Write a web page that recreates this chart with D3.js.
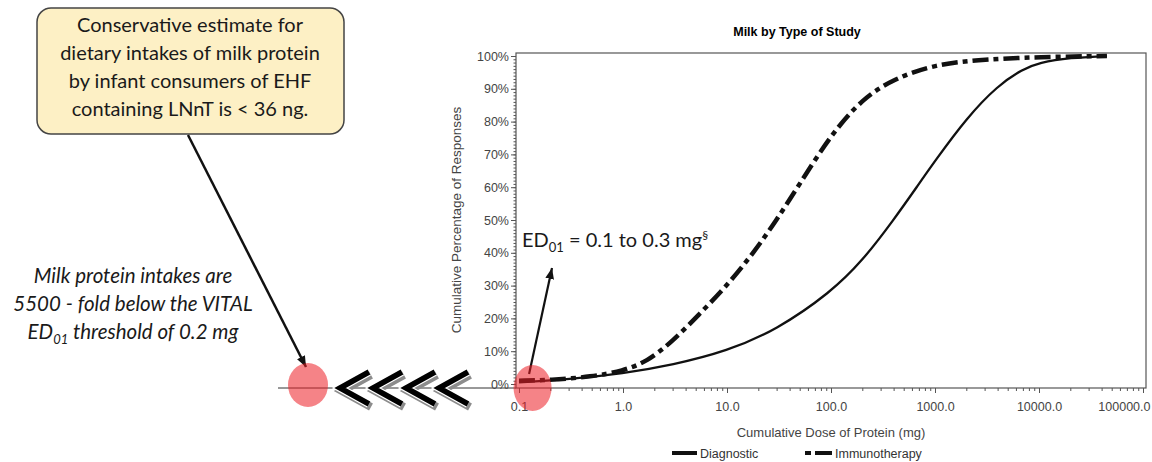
<!DOCTYPE html>
<html>
<head>
<meta charset="utf-8">
<script src="https://cdn.jsdelivr.net/npm/d3@7"></script>
<style>
  body { margin: 0; background: #fff; }
  svg { display: block; }
  .axis text { font-family: "Liberation Sans", Arial, sans-serif; font-size: 12.5px; fill: #444; }
  .axis line { stroke: #555; }
  .axis path { display: none; }
  .note { font-family: Lato, "Open Sans", sans-serif; fill: #1a1a1a; }
</style>
</head>
<body>
<div class="chart"></div>
<script>
// x ticks (mg, log scale) and y ticks (%)
const doseTicks = [0.1, 1, 10, 100, 1000, 10000, 100000]
const pctTicks = [0, 10, 20, 30, 40, 50, 60, 70, 80, 90, 100]

// Diagnostic (solid)
const diagDose = [0.1, 0.3, 1, 3, 10, 30, 100, 200, 400, 700, 1000, 2000, 4000, 7000, 10000, 20000, 45000]
const diagPct  = [0.5, 1.4, 3.2, 5.8, 10, 16.5, 28, 37.5, 50, 61, 68, 81, 91, 96, 98, 99.5, 100]

// Immunotherapy (dash-dot)
const immDose = [0.1, 0.2, 0.5, 1, 1.7, 3, 5.5, 10, 18, 30, 50, 100, 200, 400, 1000, 3000, 10000, 45000]
const immPct  = [1, 1.2, 2.2, 4, 6.8, 13, 21.5, 30, 40, 50, 61, 76, 87, 93, 97.5, 99, 99.7, 100]

const calloutLines = ["Conservative estimate for", "dietary intakes of milk protein", "by infant consumers of EHF", "containing LNnT is < 36 ng."]

const svg = d3.select(".chart").append("svg")
  .attr("width", 1152)
  .attr("height", 462)

const x = d3.scaleLog().domain([0.1, 100000]).range([519, 1143])
const y = d3.scaleLinear().domain([0, 100]).range([384, 56])

// title
svg.append("text")
  .attr("x", 797).attr("y", 36)
  .attr("text-anchor", "middle")
  .style("font-family", "'Liberation Sans', Arial, sans-serif")
  .style("font-size", "12.5px").style("font-weight", "bold")
  .text("Milk by Type of Study")

// baseline extending left of the plot
svg.append("line")
  .attr("x1", 278).attr("x2", 516)
  .attr("y1", 388).attr("y2", 388)
  .attr("stroke", "#333").attr("stroke-width", 1)

// frame
svg.append("rect")
  .attr("x", 516).attr("y", 53)
  .attr("width", 630).attr("height", 335)
  .attr("fill", "none").attr("stroke", "#555").attr("stroke-width", 1.2)

// x axis
const minorDose = []
for (let e = -1; e < 5; e++) for (let m = 2; m < 10; m++) minorDose.push(m * Math.pow(10, e))

svg.append("g").attr("class", "axis")
  .attr("transform", "translate(0,388)")
  .call(d3.axisBottom(x).tickValues(minorDose).tickSize(3).tickFormat(""))
const xAxisG = svg.append("g").attr("class", "axis")
  .attr("transform", "translate(0,388)")
  .call(d3.axisBottom(x).tickValues(doseTicks).tickSize(5).tickPadding(9).tickFormat(d3.format(".1f")))
// last label sits inside the page edge
xAxisG.selectAll(".tick text").filter(d => d === 100000)
  .attr("text-anchor", "end").attr("dx", 7)

// y axis
svg.append("g").attr("class", "axis")
  .attr("transform", "translate(516,0)")
  .call(d3.axisLeft(y).tickValues(d3.range(0, 101, 1)).tickSize(2.5).tickFormat(""))
svg.append("g").attr("class", "axis")
  .attr("transform", "translate(516,0)")
  .call(d3.axisLeft(y).tickValues(pctTicks).tickSize(5).tickPadding(2).tickFormat(d => d + "%"))

// axis labels
svg.append("text")
  .attr("x", 831).attr("y", 437)
  .attr("text-anchor", "middle")
  .style("font-family", "'Liberation Sans', Arial, sans-serif")
  .style("font-size", "13px").style("fill", "#444")
  .text("Cumulative Dose of Protein (mg)")

svg.append("text")
  .attr("transform", "translate(461,220) rotate(-90)")
  .attr("text-anchor", "middle")
  .style("font-family", "'Liberation Sans', Arial, sans-serif")
  .style("font-size", "13.5px").style("fill", "#444")
  .text("Cumulative Percentage of Responses")

// curves
const line = d3.line()
  .x(d => x(d[0]))
  .y(d => y(d[1]))
  .curve(d3.curveBasis)

svg.append("path")
  .datum(diagDose.map((d, i) => [d, diagPct[i]]))
  .attr("d", line)
  .attr("fill", "none").attr("stroke", "#111").attr("stroke-width", 2.3)

svg.append("path")
  .datum(immDose.map((d, i) => [d, immPct[i]]))
  .attr("d", line)
  .attr("fill", "none").attr("stroke", "#111").attr("stroke-width", 4.5)
  .attr("stroke-dasharray", "16,5,5,5")

// legend
const lg = svg.append("g")
  .style("font-family", "'Liberation Sans', Arial, sans-serif")
  .style("font-size", "12.5px")
lg.append("line").attr("x1", 672).attr("x2", 697).attr("y1", 453).attr("y2", 453)
  .attr("stroke", "#111").attr("stroke-width", 4)
lg.append("text").attr("x", 700).attr("y", 458).style("fill", "#333").text("Diagnostic")
lg.append("line").attr("x1", 805).attr("x2", 832).attr("y1", 453).attr("y2", 453)
  .attr("stroke", "#111").attr("stroke-width", 4).attr("stroke-dasharray", "6,4,17")
lg.append("text").attr("x", 835).attr("y", 458).style("fill", "#333").text("Immunotherapy")

// callout box
svg.append("rect")
  .attr("x", 37).attr("y", 8).attr("width", 307).attr("height", 126)
  .attr("rx", 14)
  .attr("fill", "#fdf0c5").attr("stroke", "#444").attr("stroke-width", 1.5)

svg.append("g").selectAll("text")
  .data(calloutLines).enter().append("text")
  .attr("class", "note")
  .attr("x", 190)
  .attr("y", (d, i) => 32 + i * 28)
  .attr("text-anchor", "middle")
  .style("font-size", "20px")
  .text(d => d)

// arrows
svg.append("defs").append("marker")
  .attr("id", "head")
  .attr("markerUnits", "userSpaceOnUse")
  .attr("viewBox", "0 0 10 8")
  .attr("refX", 10).attr("refY", 4)
  .attr("markerWidth", 11).attr("markerHeight", 9)
  .attr("orient", "auto")
  .append("path").attr("d", "M0,0 L10,4 L0,8 Z").attr("fill", "#111")

svg.append("line")
  .attr("x1", 188).attr("y1", 135).attr("x2", 306).attr("y2", 367)
  .attr("stroke", "#111").attr("stroke-width", 2.5)
  .attr("marker-end", "url(#head)")

svg.append("line")
  .attr("x1", x(0.125)).attr("y1", 374).attr("x2", 552).attr("y2", 268)
  .attr("stroke", "#111").attr("stroke-width", 2.2)
  .attr("marker-end", "url(#head)")

// chevrons
const chevrons = [0, 1, 2, 3]
const chev = d => `M${369 + d * 33},372 L${340 + d * 33},388 L${369 + d * 33},404`
svg.append("g").selectAll("path")
  .data(chevrons).enter().append("path")
  .attr("d", chev)
  .attr("transform", "translate(2,3)")
  .attr("fill", "none").attr("stroke", "#8c8c8c").attr("stroke-width", 8)
svg.append("g").selectAll("path")
  .data(chevrons).enter().append("path")
  .attr("d", chev)
  .attr("fill", "none").attr("stroke", "#fff").attr("stroke-width", 8)
svg.append("g").selectAll("path")
  .data(chevrons).enter().append("path")
  .attr("d", chev)
  .attr("fill", "none").attr("stroke", "#000").attr("stroke-width", 5.5)

// red circles
svg.append("ellipse")
  .attr("cx", 308).attr("cy", 385).attr("rx", 20).attr("ry", 22)
  .attr("fill", "rgb(236,30,36)").attr("opacity", 0.55)
svg.append("ellipse")
  .attr("cx", x(0.135)).attr("cy", 388).attr("rx", 19).attr("ry", 23)
  .attr("fill", "rgb(236,30,36)").attr("opacity", 0.55)

// ED01 annotation
const ed = svg.append("text").attr("class", "note")
  .attr("x", 522).attr("y", 247)
  .style("font-size", "20px")
ed.append("tspan").text("ED")
ed.append("tspan").attr("dy", 5).style("font-size", "13px").text("01")
ed.append("tspan").attr("dy", -5).text(" = 0.1 to 0.3 mg")
ed.append("tspan").attr("dy", -8).style("font-size", "12px").text("§")

// italic note
const it = svg.append("g").attr("class", "note")
  .style("font-size", "20.5px").style("font-style", "italic")
it.append("text").attr("x", 133).attr("y", 283).attr("text-anchor", "middle").text("Milk protein intakes are")
it.append("text").attr("x", 133).attr("y", 311).attr("text-anchor", "middle").text("5500 - fold below the VITAL")
const l3 = it.append("text").attr("x", 133).attr("y", 339).attr("text-anchor", "middle")
l3.append("tspan").text("ED")
l3.append("tspan").attr("dy", 5).style("font-size", "13px").text("01")
l3.append("tspan").attr("dy", -5).text(" threshold of 0.2 mg")
</script>
</body>
</html>
